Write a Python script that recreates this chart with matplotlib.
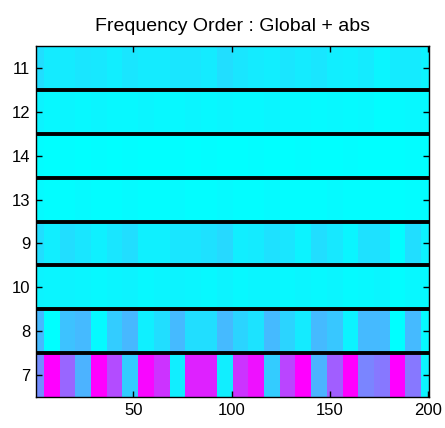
import numpy as np
import matplotlib
matplotlib.use("Agg")
import matplotlib.pyplot as plt

plt.rcParams['font.family'] = ['Liberation Sans', 'DejaVu Sans']

# row labels, top to bottom
row_labels = ["11", "12", "14", "13", "9", "10", "8", "7"]

# the image is made of column blocks: cols 1-4, then blocks of 8, then cols 197-200
block_edges = [0.5, 4.5] + [4.5 + 8 * k for k in range(1, 25)] + [200.5]

# block values (0 = cyan, 1 = magenta), one list per row
row_11 = [0.13, 0.08, 0.08, 0.10, 0.09, 0.07, 0.10, 0.08, 0.08, 0.10, 0.10, 0.08, 0.13,
          0.10, 0.08, 0.07, 0.10, 0.08, 0.10, 0.07, 0.06, 0.08, 0.04, 0.08, 0.08, 0.05]
row_12 = [0.05, 0.03, 0.04, 0.03, 0.04, 0.03, 0.03, 0.04, 0.03, 0.03, 0.04, 0.03, 0.04,
          0.03, 0.03, 0.04, 0.03, 0.03, 0.02, 0.03, 0.02, 0.03, 0.01, 0.02, 0.03, 0.02]
row_14 = [0.01, 0.00, 0.01, 0.00, 0.01, 0.00, 0.01, 0.00, 0.00, 0.01, 0.00, 0.01, 0.00,
          0.00, 0.01, 0.00, 0.00, 0.01, 0.00, 0.00, 0.01, 0.00, 0.00, 0.00, 0.01, 0.00]
row_13 = [0.02, 0.01, 0.01, 0.02, 0.01, 0.01, 0.02, 0.01, 0.01, 0.02, 0.01, 0.01, 0.02,
          0.01, 0.01, 0.02, 0.01, 0.01, 0.01, 0.02, 0.01, 0.01, 0.01, 0.00, 0.01, 0.01]
row_9 = [0.13, 0.07, 0.13, 0.10, 0.06, 0.10, 0.13, 0.06, 0.06, 0.10, 0.10, 0.12, 0.15,
         0.07, 0.08, 0.12, 0.10, 0.05, 0.13, 0.09, 0.04, 0.12, 0.12, 0.01, 0.13, 0.05]
row_10 = [0.05, 0.04, 0.05, 0.04, 0.03, 0.04, 0.05, 0.03, 0.04, 0.05, 0.04, 0.03, 0.05,
          0.03, 0.04, 0.04, 0.03, 0.04, 0.03, 0.04, 0.02, 0.03, 0.04, 0.01, 0.03, 0.02]
row_8 = [0.27, 0.00, 0.24, 0.27, 0.02, 0.20, 0.28, 0.06, 0.13, 0.27, 0.13, 0.13, 0.27,
         0.17, 0.11, 0.27, 0.17, 0.08, 0.27, 0.22, 0.05, 0.27, 0.27, 0.00, 0.27, 0.02]
row_7 = [0.45, 1.00, 0.60, 0.30, 1.00, 0.70, 0.20, 0.97, 0.80, 0.07, 0.87, 0.87, 0.07,
         0.80, 0.93, 0.20, 0.73, 1.00, 0.30, 0.63, 1.00, 0.48, 0.53, 1.00, 0.53, 0.05]

data = np.array([row_11, row_12, row_14, row_13, row_9, row_10, row_8, row_7])
n_rows = len(row_labels)

fig = plt.figure(figsize=(4.45, 4.28), dpi=100)
ax = fig.add_axes([36 / 445, 1 - 397 / 428, 393 / 445, 351 / 428])

y_edges = np.arange(n_rows + 1) - 0.5
ax.pcolormesh(block_edges, y_edges, data, cmap="cool", vmin=0, vmax=1)

# black separators between rows
ax.hlines(np.arange(1, n_rows) - 0.5, 0.5, 200.5, colors="black", linewidth=2.8)

ax.set_xlim(0.5, 200.5)
ax.set_ylim(n_rows - 0.5, -0.5)
ax.set_xticks([50, 100, 150, 200])
ax.set_yticks(range(n_rows))
ax.set_yticklabels(row_labels)
ax.tick_params(direction="in", top=True, right=True, length=4, width=1,
               labelsize=12, pad=4)
for s in ax.spines.values():
    s.set_linewidth(1)

ax.set_title("Frequency Order : Global + abs", fontsize=14, pad=11)

fig.savefig("out.png", dpi=100)
